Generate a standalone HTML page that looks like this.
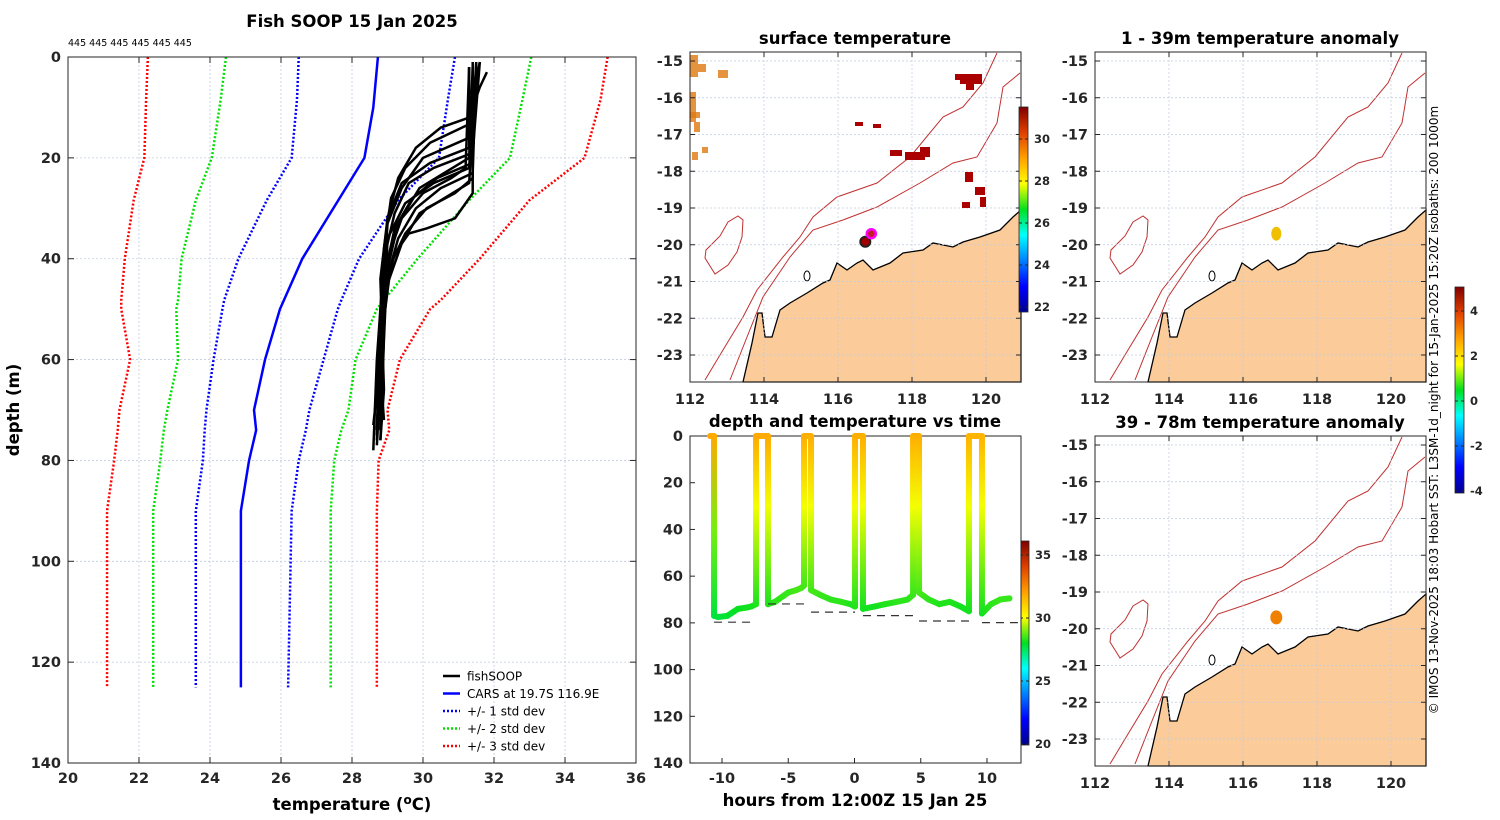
<!DOCTYPE html>
<html><head><meta charset="utf-8"><style>
html,body{margin:0;padding:0;background:#fff;}
svg{display:block;font-family:"DejaVu Sans","Liberation Sans",sans-serif;}
.tk{font-size:14.5px;font-weight:bold;fill:#262626;}
.ttl{font-size:16.5px;font-weight:bold;fill:#000;}
</style></head><body>
<svg id="fig" width="1500" height="820" viewBox="0 0 1500 820" xmlns="http://www.w3.org/2000/svg">
<defs>
<linearGradient id="jet" x1="0" y1="1" x2="0" y2="0">
<stop offset="0" stop-color="#00008f"/><stop offset="0.125" stop-color="#0000ff"/><stop offset="0.375" stop-color="#00ffff"/><stop offset="0.5" stop-color="#00e020"/><stop offset="0.625" stop-color="#ffff00"/><stop offset="0.75" stop-color="#ffa000"/><stop offset="0.875" stop-color="#e04000"/><stop offset="1" stop-color="#800000"/>
</linearGradient>
<g id="mapbase">
<rect x="0" y="0" width="331" height="330" fill="#fff"/>
<path d="M53,330 L62,291 L68,261 L72,261 L75,285 L82,285 L90,258 L100,251 L117,241 L133,231 L140,228 L147,211 L157,218 L167,211 L173,208 L183,218 L200,211 L213,201 L233,198 L243,191 L263,195 L273,190 L290,185 L310,178 L323,165 L331,158 L331,330 Z" fill="#fbcb99" stroke="#000" stroke-width="1.3"/>
<path d="M15,328 L33,298 L53,265 L67,238 L93,205 L110,185 L123,165 L147,145 L187,131 L220,105 L253,65 L273,55 L293,31 L307,1" fill="none" stroke="#c03030" stroke-width="1"/>
<path d="M40,328 L57,285 L73,245 L100,205 L123,178 L153,168 L187,155 L230,131 L263,111 L287,105 L307,71 L313,35 L330,21" fill="none" stroke="#c03030" stroke-width="1"/>
<path d="M16,198 L30,184 L38,170 L48,164 L53,168 L52,185 L47,200 L38,213 L25,222 L20,214 L15,206 Z" fill="none" stroke="#c03030" stroke-width="1"/>
<ellipse cx="117" cy="224" rx="3" ry="5" fill="none" stroke="#000" stroke-width="1"/>
</g>
</defs>
<g id="root"></g>
</svg>
<script>
// ---------------- data ----------------
const carsDepth=[0,10,20,40,50,60,70,74,80,90,125];
const carsTemp=[28.73,28.6,28.35,26.6,25.97,25.55,25.24,25.3,25.1,24.87,24.87];
const sdDepth=[0,8.5,20,28.4,40,48.2,50,60,70,74,80,90,125];
const minus1=[26.5,26.45,26.3,25.6,24.8,24.4,24.35,24.1,23.9,23.85,23.8,23.6,23.6];
const plus1=[30.9,30.7,30.45,29.3,28.2,27.7,27.6,27.2,26.8,26.7,26.5,26.3,26.2];
const minus2=[24.45,24.3,24.05,23.6,23.2,23.1,23.05,23.1,22.8,22.7,22.6,22.4,22.4];
const plus2=[33.05,32.8,32.45,31.3,29.85,28.9,28.7,28.1,27.9,27.7,27.5,27.4,27.4];
const minus3=[22.25,22.2,22.15,21.85,21.6,21.5,21.5,21.75,21.45,21.4,21.3,21.1,21.1];
const plus3=[35.2,35.0,34.55,33.0,31.6,30.5,30.2,29.35,29.0,29.05,28.75,28.7,28.7];
const fishProfiles=[
 [[31.5,1],[31.4,13],[30.2,17],[29.5,22],[29.1,28],[28.9,38],[28.8,55],[28.7,76]],
 [[31.3,2],[31.3,16],[30.0,20],[29.4,26],[29.0,33],[28.9,45],[28.8,65],[28.8,74]],
 [[31.6,1],[31.4,19],[30.3,22],[29.6,25],[29.2,31],[28.9,40],[28.7,60],[28.6,78]],
 [[31.4,2],[31.3,20],[30.6,23],[29.9,26],[29.3,33],[29.0,42],[28.8,58],[28.7,75]],
 [[31.5,1],[31.4,21],[30.4,24],[29.7,28],[29.2,34],[28.9,44],[28.8,62],[28.9,72]],
 [[31.3,2],[31.2,22],[30.8,24],[30.0,27],[29.4,32],[29.0,40],[28.9,56],[28.8,76]],
 [[31.5,2],[31.4,23],[30.5,26],[29.8,30],[29.3,36],[28.9,46],[28.8,64],[28.7,74]],
 [[31.4,1],[31.4,24],[30.9,27],[30.1,30],[29.5,35],[29.1,41],[28.9,52],[28.7,77]],
 [[31.5,2],[31.3,25],[30.6,28],[29.9,31],[29.4,37],[29.0,45],[28.8,60],[28.6,73]],
 [[31.4,2],[31.4,27],[30.9,32],[30.1,34],[29.6,35],[29.2,39],[28.9,48],[28.8,70]],
 [[31.6,1],[31.3,12],[30.5,14],[29.8,18],[29.3,24],[29.0,32],[28.8,50],[28.7,74]],
 [[31.3,2],[31.3,18],[30.2,21],[29.4,25],[29.0,32],[28.8,44],[28.9,66],[28.8,76]],
 [[31.8,3],[31.6,6],[31.4,10],[31.3,22],[30.3,25],[29.5,29],[29.0,36],[28.8,74]]
];
const dtHours=[-10.9,-10.6,-10.6,-10.6,-10.3,-9.6,-8.8,-8.2,-7.8,-7.43,-7.43,-7.43,-6.53,-6.53,-6.53,-6.0,-5.0,-4.4,-4.0,-3.81,-3.81,-3.81,-3.28,-3.28,-3.28,-2.6,-1.8,-1.0,-0.3,0.04,0.04,0.04,0.64,0.64,0.64,1.5,2.3,3.2,4.0,4.42,4.42,4.42,4.87,4.87,4.87,5.6,6.4,7.2,8.0,8.64,8.64,8.64,9.62,9.62,9.62,10.3,11.0,11.7];
const dtDepth=[0,0,40,77,77.5,77,74,73.5,73,72,30,0,0,30,72,71,67,66,65,64,30,0,0,30,66,68,70,71,72,73,30,0,0,30,74,73,72,71,70,68,30,0,0,30,67,70,72,71,73,75,30,0,0,30,76,72,70,69.5];
const dtTemp=[31.5,31.5,28.6,27.4,27.4,27.5,27.7,27.8,27.8,27.9,29.6,31.5,31.5,29.6,27.9,28,28.1,28.2,28.2,28.2,29.6,31.4,31.4,29.6,28.2,28.1,28.0,28.0,27.9,27.9,29.6,31.4,31.4,29.6,27.8,27.8,27.9,28,28.0,28.1,29.6,31.4,31.4,29.6,28.2,28.0,27.9,27.9,27.8,27.8,29.6,31.3,31.3,29.6,27.8,28.0,28.1,28.1];
const dashStart=[-10.6,-6.53,-3.28,0.64,4.87,9.62];
const dashEnd=[-7.43,-3.81,0.04,4.42,8.64,12.5];
const dashDepth=[79.7,71.9,75.4,76.9,79.2,79.9];
const legendLabels=["fishSOOP","CARS at 19.7S 116.9E","+/- 1 std dev","+/- 2 std dev","+/- 3 std dev"];
const shipLon=116.9, shipLat=-19.7;

// ---------------- helpers ----------------
const NS="http://www.w3.org/2000/svg";
const root=document.getElementById('root');
function mk(tag,attrs,parent,text){const e=document.createElementNS(NS,tag);for(const k in attrs)e.setAttribute(k,attrs[k]);if(text!==undefined)e.textContent=text;(parent||root).appendChild(e);return e;}

const xL=t=>68+(t-20)*35.5, yL=d=>57+d*5.043;
const xD=h=>722+(h+10)*13.25, yD=d=>436+d*2.336;
const lonX=l=>(l-112)*37, latY=la=>9+(-15-la)*36.75;
const cmapStops=[[0,[0,0,143]],[0.125,[0,0,255]],[0.375,[0,255,255]],[0.5,[0,224,32]],[0.625,[255,255,0]],[0.75,[255,160,0]],[0.875,[224,64,0]],[1,[128,0,0]]];
function cmap(v,lo,hi){const t=Math.max(0,Math.min(1,(v-lo)/(hi-lo)));
 for(let i=0;i<cmapStops.length-1;i++){const a=cmapStops[i],b=cmapStops[i+1];if(t<=b[0]){const f=(t-a[0])/(b[0]-a[0]);const c=a[1].map((x,k)=>Math.round(x+(b[1][k]-x)*f));return `rgb(${c[0]},${c[1]},${c[2]})`;}}
 return 'rgb(128,0,0)';}

// ---------------- left profile panel ----------------
let g=mk('g',{});  
let t=mk('text',{x:352,y:27,'text-anchor':'middle',class:'ttl'},g,'Fish SOOP 15 Jan 2025');
 
t=mk('text',{x:68,y:46,'font-size':9.5,fill:'#000'},g,'445 445 445 445 445 445');
 
mk('rect',{x:68,y:57,width:568,height:706,fill:'#fff'},g);
for(let v=22;v<=34;v+=2)mk('line',{x1:xL(v),x2:xL(v),y1:57,y2:763,stroke:'#c0cbe0','stroke-width':0.8,'stroke-dasharray':'2,2'},g);
for(let d=20;d<=120;d+=20)mk('line',{x1:68,x2:636,y1:yL(d),y2:yL(d),stroke:'#c0cbe0','stroke-width':0.8,'stroke-dasharray':'2,2'},g);
function pl(ts,ds,col,dash,w,name){const p=mk('polyline',{points:ts.map((v,i)=>xL(v)+','+yL(ds[i])).join(' '),fill:'none',stroke:col,'stroke-width':w,'stroke-dasharray':dash||'none'},g);}
pl(minus3,sdDepth,'#ff0000','2,2',2.5,'minus-3-std-line');pl(plus3,sdDepth,'#ff0000','2,2',2.5,'plus-3-std-line');
pl(minus2,sdDepth,'#00e000','2,2',2.5,'minus-2-std-line');pl(plus2,sdDepth,'#00e000','2,2',2.5,'plus-2-std-line');
pl(minus1,sdDepth,'#0000ff','2,2',2.5,'minus-1-std-line');pl(plus1,sdDepth,'#0000ff','2,2',2.5,'plus-1-std-line');
pl(carsTemp,carsDepth,'#0000ff',null,2.5,'cars-line');
fishProfiles.forEach(pr=>{const p=mk('polyline',{points:pr.map(q=>xL(q[0])+','+yL(q[1])).join(' '),fill:'none',stroke:'#000','stroke-width':2.5,'stroke-linejoin':'round'},g);});
mk('rect',{x:68,y:57,width:568,height:706,fill:'none',stroke:'#262626','stroke-width':1},g);
for(let v=20;v<=36;v+=2){mk('line',{x1:xL(v),x2:xL(v),y1:763,y2:757,stroke:'#262626'},g);mk('line',{x1:xL(v),x2:xL(v),y1:57,y2:63,stroke:'#262626'},g);
 t=mk('text',{x:xL(v),y:783,'text-anchor':'middle',class:'tk'},g,v);}
for(let d=0;d<=140;d+=20){mk('line',{x1:68,x2:74,y1:yL(d),y2:yL(d),stroke:'#262626'},g);mk('line',{x1:630,x2:636,y1:yL(d),y2:yL(d),stroke:'#262626'},g);
 t=mk('text',{x:61,y:yL(d)+5,'text-anchor':'end',class:'tk'},g,d);}
t=mk('text',{x:352,y:810,'text-anchor':'middle',class:'ttl'},g);t.innerHTML='temperature (<tspan dy="-6" font-size="12">o</tspan><tspan dy="6">C)</tspan>';

t=mk('text',{x:19,y:410,'text-anchor':'middle',class:'ttl',transform:'rotate(-90 19 410)'},g,'depth (m)');

const legCols=['#000','#0000ff','#0000ff','#00e000','#ff0000'];
legendLabels.forEach((s,i)=>{const y=676+i*17.5;const lg=mk('g',{},g);
 mk('line',{x1:443,x2:460,y1:y,y2:y,stroke:legCols[i],'stroke-width':2.5,'stroke-dasharray':i>1?'2,2':'none'},lg);
 mk('text',{x:467,y:y+4.5,'font-size':12,fill:'#000'},lg,s);});

// ---------------- maps ----------------
function mapPanel(ox,oy,title,name,extra){
 const mg=mk('g',{transform:`translate(${ox},${oy})`});
 mk('use',{href:'#mapbase'},mg);
 for(let l=114;l<=120;l+=2)mk('line',{x1:lonX(l),x2:lonX(l),y1:0,y2:330,stroke:'#c0cbe0','stroke-width':0.7,'stroke-dasharray':'2,2'},mg);
 for(let la=-15;la>=-23;la--)mk('line',{x1:0,x2:331,y1:latY(la),y2:latY(la),stroke:'#c0cbe0','stroke-width':0.7,'stroke-dasharray':'2,2'},mg);
 extra(mg);
 mk('rect',{x:0,y:0,width:331,height:330,fill:'none',stroke:'#262626'},mg);
 for(let l=112;l<=120;l+=2){mk('line',{x1:lonX(l),x2:lonX(l),y1:330,y2:325,stroke:'#262626'},mg);mk('line',{x1:lonX(l),x2:lonX(l),y1:0,y2:5,stroke:'#262626'},mg);
  const tt=mk('text',{x:lonX(l),y:352,'text-anchor':'middle',class:'tk'},mg,l);}
 for(let la=-15;la>=-23;la--){mk('line',{x1:0,x2:5,y1:latY(la),y2:latY(la),stroke:'#262626'},mg);mk('line',{x1:326,x2:331,y1:latY(la),y2:latY(la),stroke:'#262626'},mg);
  const tt=mk('text',{x:-7,y:latY(la)+5,'text-anchor':'end',class:'tk'},mg,la);}
 const tt=mk('text',{x:165,y:-8,'text-anchor':'middle',class:'ttl'},mg,title);
}
const hotPatches=[[270,22,22,10],[276,30,8,8],[265,22,6,6],[215,100,20,8],[200,98,12,6],[230,95,10,10],[183,72,8,4],[165,70,8,4],[275,120,8,10],[285,135,10,8],[272,150,8,6],[290,145,6,10]];
const warmPatches=[[0,3,8,22],[8,12,8,8],[28,18,10,8],[0,40,6,30],[4,70,6,10],[12,95,6,6],[2,100,6,8],[0,60,10,6]];
mapPanel(690,52,'surface temperature','sst-map',mg=>{
 hotPatches.forEach(p=>{const r=mk('rect',{x:p[0],y:p[1],width:p[2],height:p[3],fill:'#aa0000'},mg);});
 warmPatches.forEach(p=>{const r=mk('rect',{x:p[0],y:p[1],width:p[2],height:p[3],fill:'#e07810',opacity:0.8},mg);});
 mk('circle',{cx:lonX(shipLon)-6,cy:latY(shipLat)+8,r:5,fill:'#a00000',stroke:'#222','stroke-width':2},mg);
 const c=mk('circle',{cx:lonX(shipLon),cy:latY(shipLat),r:4.5,fill:'#c02020',stroke:'#ff00ff','stroke-width':2.5},mg);
});
mapPanel(1095,52,'1 - 39m temperature anomaly','anomaly-map-shallow',mg=>{
 const c=mk('ellipse',{cx:lonX(shipLon),cy:latY(shipLat),rx:5,ry:7,fill:'#f0c000'},mg);});
mapPanel(1095,436,'39 - 78m temperature anomaly','anomaly-map-deep',mg=>{
 const c=mk('ellipse',{cx:lonX(shipLon),cy:latY(shipLat-0.1)-4,rx:6,ry:7,fill:'#f08000'},mg);});

function cbar(x,y0,y1,vals,v2y,name){const cg=mk('g',{});
 mk('rect',{x:x,y:y0,width:9,height:y1-y0,fill:'url(#jet)',stroke:'#262626','stroke-width':0.8},cg);
 vals.forEach(v=>{mk('line',{x1:x,x2:x+3,y1:v2y(v),y2:v2y(v),stroke:'#262626'},cg);mk('line',{x1:x+6,x2:x+9,y1:v2y(v),y2:v2y(v),stroke:'#262626'},cg);
  const tt=mk('text',{x:x+15,y:v2y(v)+4,'font-size':11.5,'font-weight':'bold',fill:'#262626'},cg,v);});}
cbar(1019,107,312,[22,24,26,28,30],v=>307-(v-22)*21,'sst-colorbar');
cbar(1455,287,493,[-4,-2,0,2,4],v=>401-v*22.5,'anomaly-colorbar');
cbar(1020,541,745,[20,25,30,35],v=>744-(v-20)*12.6,'depth-time-colorbar');

// ---------------- depth-time panel ----------------
const dg=mk('g',{});
mk('rect',{x:690,y:436,width:331,height:327,fill:'#fff',stroke:'#262626'},dg);
t=mk('text',{x:855,y:427,'text-anchor':'middle',class:'ttl'},dg,'depth and temperature vs time');
for(let i=0;i<dtHours.length-1;i++){
 const x1=xD(dtHours[i]),y1=yD(dtDepth[i]),x2=xD(dtHours[i+1]),y2=yD(dtDepth[i+1]);
 const id='gr'+i;const lg=mk('linearGradient',{id:id,gradientUnits:'userSpaceOnUse',x1:x1,y1:y1,x2:x2+0.01,y2:y2+0.01},dg);
 mk('stop',{offset:0,'stop-color':cmap(dtTemp[i],19.5,35.8)},lg);mk('stop',{offset:1,'stop-color':cmap(dtTemp[i+1],19.5,35.8)},lg);
 const s=mk('line',{x1:x1,y1:y1,x2:x2,y2:y2,stroke:`url(#${id})`,'stroke-width':6,'stroke-linecap':'round'},dg);
 }
dashStart.forEach((h,i)=>{const l=mk('line',{x1:xD(h),x2:xD(dashEnd[i]),y1:yD(dashDepth[i]),y2:yD(dashDepth[i]),stroke:'#333','stroke-width':1.2,'stroke-dasharray':'8,6'},dg);
 });
for(let h=-10;h<=10;h+=5){mk('line',{x1:xD(h),x2:xD(h),y1:763,y2:758,stroke:'#262626'},dg);
 t=mk('text',{x:xD(h),y:783,'text-anchor':'middle',class:'tk'},dg,h);}
for(let d=0;d<=140;d+=20){mk('line',{x1:690,x2:695,y1:yD(d),y2:yD(d),stroke:'#262626'},dg);
 t=mk('text',{x:683,y:yD(d)+5,'text-anchor':'end',class:'tk'},dg,d);}
t=mk('text',{x:855,y:806,'text-anchor':'middle',class:'ttl'},dg,'hours from 12:00Z 15 Jan 25');

t=mk('text',{x:1438,y:410,'text-anchor':'middle','font-size':12,fill:'#000',transform:'rotate(-90 1438 410)'},root,'© IMOS 13-Nov-2025 18:03 Hobart SST: L3SM-1d_night for 15-Jan-2025 15:20Z isobaths: 200  1000m');

</script>
</body></html>
